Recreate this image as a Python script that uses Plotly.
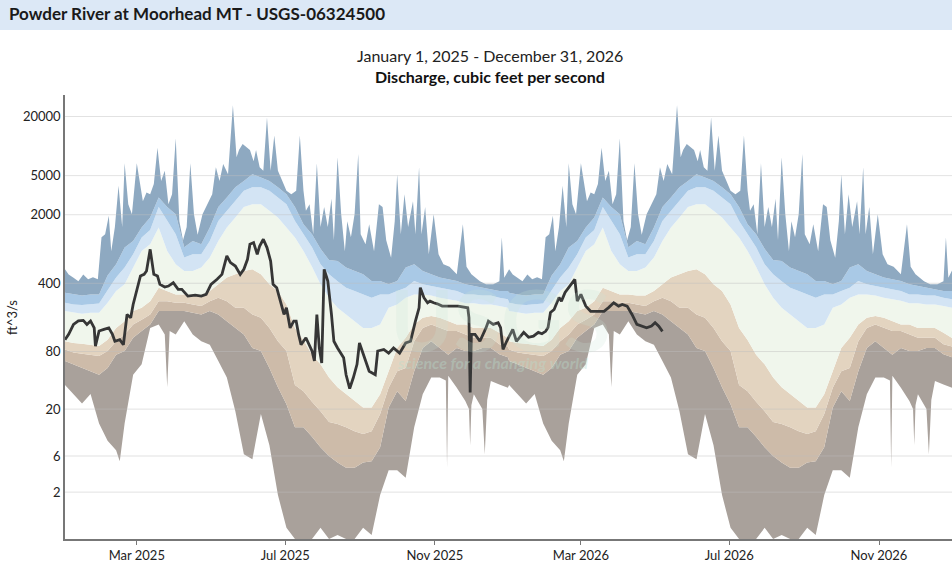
import datetime as dt
import plotly.graph_objects as go

START = dt.date(2025, 1, 1)

# daily statistics by day of year (0 = Jan 1)
stat_days = list(range(0, 365, 7))
p95 = [320, 308, 300, 308, 308, 480, 625, 925, 1080, 1480,
       1870, 3000, 2400, 2020, 930, 1080, 1000, 1480, 2400, 3000,
       3800, 4400, 5180, 4800, 4400, 3800, 3240, 2400, 1600, 1265,
       900, 690, 675, 578, 534, 494, 422, 422, 390, 422,
       578, 625, 534, 494, 457, 440, 422, 390, 375, 361,
       347, 333, 333]
p90 = [253, 243, 240, 243, 248, 340, 457, 578, 790, 1170,
       1400, 2400, 1725, 1265, 731, 790, 790, 1080, 1725, 2200,
       2750, 3500, 3800, 3800, 3500, 3000, 2560, 1725, 1265, 930,
       625, 494, 420, 361, 333, 308, 285, 308, 308, 333,
       361, 422, 390, 375, 361, 347, 333, 308, 308, 300,
       300, 285, 275]
p75 = [208, 200, 195, 200, 200, 253, 333, 390, 578, 855,
       1000, 1480, 855, 625, 534, 534, 578, 731, 1080, 1480,
       1870, 2400, 2560, 2560, 2200, 1870, 1480, 1170, 855, 590,
       390, 285, 225, 192, 164, 140, 140, 152, 225, 243,
       285, 308, 308, 300, 285, 275, 265, 250, 250, 243,
       243, 235, 225]
p25 = [102, 98, 96, 94, 91, 106, 140, 164, 208, 225,
       263, 361, 333, 308, 308, 300, 300, 333, 390, 457,
       494, 534, 555, 494, 390, 333, 243, 140, 105, 74,
       59, 43, 34, 28.7, 24.4, 20.8, 20.8, 28.7, 50, 87,
       111, 152, 178, 185, 178, 164, 152, 152, 140, 140,
       140, 125, 110]
p10 = [84, 78, 76, 74, 72, 81, 102, 120, 152, 170,
       192, 263, 263, 253, 253, 243, 235, 263, 285, 263,
       225, 225, 192, 178, 140, 102, 81, 36, 31, 24,
       19, 14.5, 13.8, 12.7, 11.5, 10.7, 11.5, 17.7, 33.7, 50,
       54, 102, 140, 152, 140, 130, 130, 120, 111, 111,
       111, 95, 90]
p5 = [64, 59, 54, 50, 46, 54, 74, 81, 111, 130,
      152, 208, 208, 208, 208, 200, 192, 208, 192, 164,
      140, 120, 87, 81, 54, 34, 22.5, 12.7, 12.7, 10,
      7.6, 6, 5, 4.3, 4.3, 5, 5.2, 7.6, 20.8, 31,
      24.4, 50, 87, 102, 87, 74, 87, 81, 81, 87,
      87, 75, 70]

# the max and min edges are spikier, so they get their own days
max_days = [0, 3, 7, 11, 15, 19, 23, 27, 30, 33, 36, 38, 41, 44, 47, 49, 52, 55, 59, 62,
            64, 67, 70, 73, 76, 79, 82, 85, 88, 91, 94, 97, 100, 103, 106, 109, 113, 117, 121, 124,
            127, 130, 134, 138, 141, 143, 146, 149, 152, 155, 157, 160, 163, 166, 169, 172, 175, 178, 182, 186,
            190, 193, 196, 198, 201, 204, 207, 210, 213, 216, 219, 221, 224, 227, 230, 232, 235, 238, 241, 243,
            247, 250, 254, 258, 261, 264, 268, 271, 273, 276, 279, 282, 286, 288, 291, 293, 296, 299, 303, 307,
            311, 316, 322, 327, 330, 334, 341, 346, 352, 357, 359, 361, 364]
p_max = [555, 493, 455, 420, 493, 439, 462, 439, 1180, 1265, 1950, 850, 1500, 3950, 1500, 6700, 2560, 2020, 6700, 4100,
         2750, 3360, 3240, 4100, 9600, 4400, 5600, 2560, 3240, 12000, 1720, 1100, 1500, 6700, 2020, 1250, 2020, 2560, 3240, 6100,
         4400, 6550, 5180, 26000, 7700, 9100, 10500, 9800, 9100, 7000, 9100, 6100, 5600, 19500, 5600, 12800, 5600, 4600, 3500, 3240,
         3500, 12800, 3500, 2200, 2560, 1265, 6700, 1500, 2400, 1500, 2900, 1100, 7700, 2020, 850, 1720, 1180, 2020, 8300, 1265,
         1000, 1600, 850, 2560, 2400, 1100, 730, 1720, 5180, 1265, 3240, 1500, 2750, 1265, 6100, 1265, 2400, 790, 2020, 790,
         625, 590, 494, 1600, 590, 494, 420, 390, 390, 420, 1180, 455, 540]

min_days = [0, 7, 14, 21, 28, 35, 42, 45, 49, 56, 63, 70, 77, 82, 84, 86, 91, 98, 105, 112,
            119, 126, 133, 140, 147, 154, 161, 168, 175, 182, 189, 196, 203, 210, 217, 224, 231, 238, 245, 252,
            259, 266, 273, 280, 287, 294, 301, 308, 313, 314, 315, 322, 329, 332, 333, 334, 336, 343, 345, 347,
            350, 357, 364]
p_min = [36, 29, 23, 29, 14, 9, 7, 5.2, 14, 46, 59, 140, 152, 120, 34, 130, 120, 164, 120, 102,
         94, 64, 43, 19, 6.3, 5.5, 17.7, 8, 1.8, 0.3, 0, 0, 0, 0.3, 0, 0.1, 0, 0, 0.3, 0.1,
         1.8, 4, 4, 3.2, 12.7, 28.7, 43, 43, 40, 4.3, 45, 33.7, 24.4, 20, 8, 22, 28.7, 20, 6.3, 25,
         39.6, 36.5, 33.7]

# observed daily discharge, days since Jan 1 2025
obs_days = [0, 3, 7, 11, 15, 18, 21, 24, 25, 28, 32, 36, 39, 41, 45, 48, 51, 54, 56, 59,
            62, 65, 67, 70, 73, 76, 78, 82, 85, 89, 93, 96, 101, 107, 112, 116, 120, 125, 129, 133,
            136, 140, 144, 147, 150, 152, 155, 158, 160, 163, 166, 169, 171, 174, 177, 180, 182, 185, 188, 190,
            192, 194, 198, 203, 205, 207, 209, 211, 213, 216, 219, 221, 224, 229, 231, 234, 237, 240, 242, 246,
            250, 255, 257, 262, 266, 270, 275, 280, 284, 288, 291, 292, 295, 298, 300, 303, 306, 310, 317, 323,
            331, 332, 333, 334, 337, 341, 346, 348, 352, 356, 358, 360, 363, 368, 371, 374, 377, 381, 385, 389,
            392, 395, 397, 399, 402, 406, 408, 411, 414, 417, 419, 421, 424, 428, 432, 437, 443, 447, 451, 455,
            458, 462, 466, 470, 474, 478, 482, 485, 488, 491]
obs_cfs = [106, 120, 152, 165, 167, 152, 165, 140, 91, 130, 135, 140, 120, 102, 106, 94, 192, 178, 243, 333,
           475, 493, 534, 888, 493, 475, 390, 366, 375, 405, 347, 347, 296, 303, 296, 308, 390, 439, 493, 760,
           650, 600, 493, 555, 703, 1000, 1040, 790, 961, 1125, 925, 675, 390, 361, 263, 192, 225, 140, 164, 164,
           120, 94, 111, 81, 64, 192, 87, 61, 555, 422, 192, 102, 87, 69, 46, 33, 43, 59, 98, 69,
           50, 46, 81, 84, 77, 87, 77, 98, 102, 164, 225, 361, 285, 253, 263, 253, 247, 234, 234, 234,
           225, 178, 30, 120, 120, 102, 140, 164, 152, 158, 141, 84, 102, 135, 102, 115, 126, 112, 115, 126,
           122, 129, 141, 201, 216, 287, 263, 323, 363, 408, 439, 263, 308, 234, 207, 207, 207, 227, 253, 234,
           243, 234, 192, 152, 146, 140, 146, 158, 146, 129]

y_ticks = [2, 6, 20, 80, 400, 2000, 5000, 20000]

BAND_COLORS = ['#a9a19b', '#cdbba9', '#e3d4c0', '#f0f6ec', '#d3e4f4', '#a9c9e6', '#8ea9c1']


def to_dates(days, offset=0):
    return [START + dt.timedelta(days=d + offset) for d in days]


def two_years(days, vals):
    # the day-of-year statistics repeat for 2026
    x = to_dates(days) + to_dates(days, 365)
    y = [v + 1 for v in vals] * 2   # axis is log(Q + 1)
    return x, y


fig = go.Figure()

edges = [(min_days, p_min), (stat_days, p5), (stat_days, p10), (stat_days, p25),
         (stat_days, p75), (stat_days, p90), (stat_days, p95), (max_days, p_max)]
for i, (days, vals) in enumerate(edges):
    x, y = two_years(days, vals)
    fig.add_trace(go.Scatter(
        x=x, y=y, mode='lines', line=dict(width=0),
        fill='none' if i == 0 else 'tonexty',
        fillcolor=BAND_COLORS[i - 1] if i > 0 else None,
        hoverinfo='skip', showlegend=False))

# gridlines sit over the bands in the original
gx, gy = [], []
for t in y_ticks:
    gx += [START, START + dt.timedelta(days=729), None]
    gy += [t + 1, t + 1, None]
fig.add_trace(go.Scatter(x=gx, y=gy, mode='lines', line=dict(color='rgba(190,190,190,0.45)', width=1),
                         hoverinfo='skip', showlegend=False))

fig.add_trace(go.Scatter(
    x=to_dates(obs_days), y=[v + 1 for v in obs_cfs], mode='lines',
    line=dict(color='#363636', width=2.8), showlegend=False, name='Discharge'))

W, H = 952, 563
L, R, T, B = 65, 0, 95, 24
pw, ph = W - L - R, H - T - B


def px(x):
    return (x - L) / pw


def py(y):
    return (H - B - y) / ph


font = 'Lato, "Noto Sans", sans-serif'
fig.update_layout(
    width=W, height=H,
    margin=dict(l=L, r=R, t=T, b=B),
    paper_bgcolor='white', plot_bgcolor='white',
    font=dict(family=font, size=13, color='#222'),
    hovermode=False,
    xaxis=dict(
        type='date', range=[START, START + dt.timedelta(days=729)],
        tickvals=['2025-03-01', '2025-07-01', '2025-11-01', '2026-03-01', '2026-07-01', '2026-11-01'],
        ticktext=['Mar 2025', 'Jul 2025', 'Nov 2025', 'Mar 2026', 'Jul 2026', 'Nov 2026'],
        showgrid=False, showline=True, linecolor='#777', linewidth=1.5,
        ticks='outside', ticklen=4, tickcolor='#777', zeroline=False,
    ),
    yaxis=dict(
        type='log', range=[0, 4.52],
        tickvals=[t + 1 for t in y_ticks], ticktext=[str(t) for t in y_ticks],
        showgrid=False, showline=True, linecolor='#777', linewidth=1.5,
        ticks='', zeroline=False,
    ),
    shapes=[dict(type='rect', xref='paper', yref='paper', x0=px(0), x1=px(W + 2),
                 y0=py(30), y1=py(0), fillcolor='#dce8f6', line=dict(width=0), layer='below')],
    annotations=[
        dict(text='<b>Powder River at Moorhead MT - USGS-06324500</b>', xref='paper', yref='paper',
             x=px(7), y=py(13), xanchor='left', yanchor='middle', showarrow=False,
             font=dict(size=17, color='#1a1a1a')),
        dict(text='January 1, 2025 - December 31, 2026', xref='paper', yref='paper',
             x=px(490), y=py(56), xanchor='center', yanchor='middle', showarrow=False,
             font=dict(size=16, color='#222')),
        dict(text='<b>Discharge, cubic feet per second</b>', xref='paper', yref='paper',
             x=px(490), y=py(77), xanchor='center', yanchor='middle', showarrow=False,
             font=dict(size=16, color='#111')),
        dict(text='ft^3/s', xref='paper', yref='paper', x=px(12), y=py(318), textangle=-90,
             xanchor='center', yanchor='middle', showarrow=False, font=dict(size=13, color='#222')),
        dict(text='<b>USGS</b>', xref='paper', yref='paper', x=px(500), y=py(318),
             xanchor='center', yanchor='middle', showarrow=False,
             font=dict(size=86, color='rgba(200,228,215,0.22)')),
        dict(text='<b><i>science for a changing world</i></b>', xref='paper', yref='paper',
             x=px(492), y=py(362), xanchor='center', yanchor='middle', showarrow=False,
             font=dict(size=16, color='rgba(185,220,205,0.40)')),
    ],
)

# the page's default body margin would push the figure 8px off the window
fig.write_html('out.html', config={'displayModeBar': False},
               post_script="document.body.style.margin = '0';")
